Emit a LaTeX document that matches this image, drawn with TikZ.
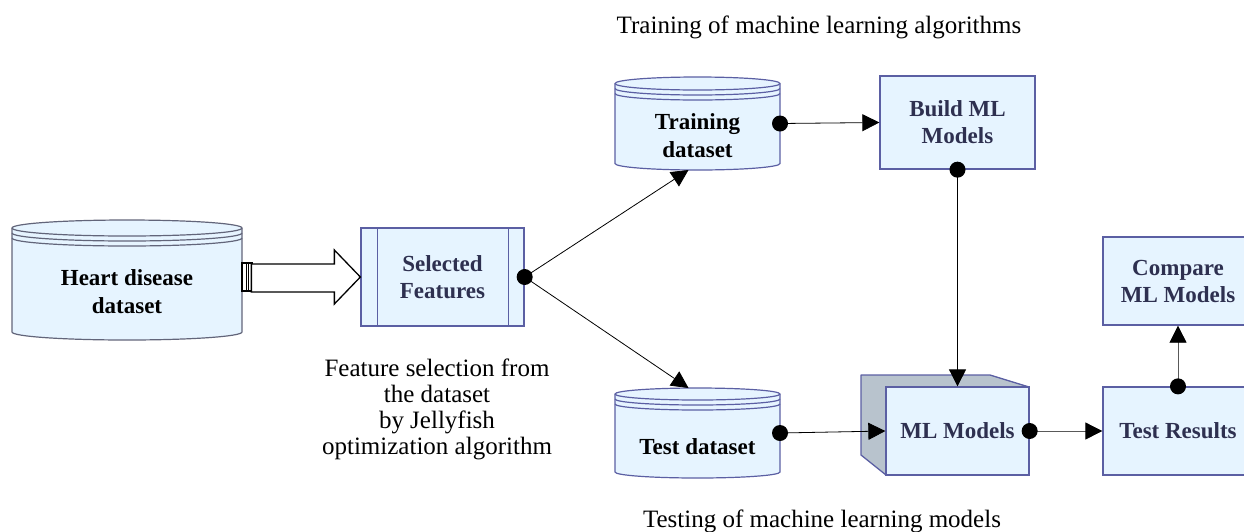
\documentclass[tikz,border=0pt]{standalone}
\usepackage{fontspec}
\setmainfont{Liberation Serif}
\usetikzlibrary{arrows.meta}
\definecolor{boxfill}{HTML}{E6F4FF}
\definecolor{boxline}{HTML}{5B5FA3}
\definecolor{cylline}{HTML}{62657A}
\definecolor{navytext}{HTML}{2E3050}
\definecolor{sideface}{HTML}{B8C3CD}
\newcommand{\dbcyl}[6]{% x1 x2 ytop ybot ry linecolor
  \pgfmathsetmacro{\rx}{(#2-#1)/2}
  \filldraw[fill=boxfill,draw=#6,line width=1.2pt]
    (#1,#3+#5) -- (#1,#4-#5)
    arc[start angle=180,end angle=360,x radius=\rx pt,y radius=#5pt]
    -- (#2,#3+#5)
    arc[start angle=0,end angle=180,x radius=\rx pt,y radius=#5pt] -- cycle;
  \draw[draw=#6,line width=1.2pt] (#1,#3+#5)
    arc[start angle=180,end angle=360,x radius=\rx pt,y radius=#5pt];
  \draw[draw=#6,line width=1.2pt] (#1,#3+#5+5)
    arc[start angle=180,end angle=360,x radius=\rx pt,y radius=#5pt];
  \draw[draw=#6,line width=1.2pt] (#1,#3+#5+10)
    arc[start angle=180,end angle=360,x radius=\rx pt,y radius=#5pt];
}
\begin{document}
\begin{tikzpicture}[x=1pt,y=-1pt,
  box/.style={draw=boxline,fill=boxfill,line width=1.3pt,text=navytext,
    font=\fontsize{23}{27}\selectfont\bfseries,align=center,inner sep=0pt},
  cyltext/.style={text=black,font=\fontsize{23}{28}\selectfont\bfseries,align=center,inner sep=0pt},
  plain/.style={text=black,font=\fontsize{25}{26}\selectfont,align=center,inner sep=0pt},
  area/.style={inner sep=0pt,outer sep=0pt},
  conn/.style={line width=0.8pt,-{Triangle[length=17pt,width=17pt,color=black]}},
  grayconn/.style={conn,draw=black!65},
  dot/.style={fill=black}]
\useasboundingbox (0,0) rectangle (1244,531);

% cylinders
\dbcyl{12}{242}{220}{340}{8}{cylline}
\node[area,minimum width=230pt,minimum height=120pt] (heart) at (127,280) {};
\node[cyltext] (hearttext) at (127,292) {Heart disease\\dataset};

\dbcyl{615}{780}{77}{170}{6.5}{boxline}
\node[area,minimum width=165pt,minimum height=93pt] (train) at (697.5,123.5) {};
\node[cyltext] (traintext) at (697.5,136) {Training\\dataset};

\dbcyl{615}{780}{388}{478}{6}{boxline}
\node[area,minimum width=165pt,minimum height=90pt] (test) at (697.5,433) {};
\node[cyltext] (testtext) at (697.5,447) {Test dataset};

% selected features
\node[box,minimum width=163pt,minimum height=98pt] (sel) at (442.5,277) {Selected\\Features};
\draw[boxline,line width=1.3pt] ([xshift=17pt]sel.north west) -- ([xshift=17pt]sel.south west);
\draw[boxline,line width=1.3pt] ([xshift=-16pt]sel.north east) -- ([xshift=-16pt]sel.south east);

% boxes
\node[box,minimum width=155pt,minimum height=93pt] (build) at (957.5,122.5) {Build ML\\Models};
\filldraw[fill=sideface,draw=boxline,line width=1.3pt,line join=round]
  (861,375) -- (990,375) -- (1029,387) -- (886,387) -- (886,475) -- (861,455) -- cycle;
\node[box,minimum width=143pt,minimum height=88pt] (mlm) at (957.5,431) {ML Models};
\node[box,minimum width=150pt,minimum height=88pt] (tr) at (1178,431) {Test Results};
\node[box,minimum width=150pt,minimum height=88pt] (cmp) at (1178,281) {Compare\\ML Models};

% big hollow arrow
\draw[line width=1.3pt,fill=white,line join=miter] (242,263) rectangle (252,291);
\draw[line width=1pt] (246,263) -- (246,291) (248.5,263) -- (248.5,291);
\draw[line width=1.3pt,fill=white,line join=miter] (sel.west) -- ++(-26,-27) -- ++(0,14) -- ++(-83,0)
  -- ++(0,28) -- ++(83,0) -- ++(0,12) -- cycle;

% connectors
\draw[conn] (sel.east) -- ([xshift=-9pt]train.south);
\draw[conn] (sel.east) -- ([xshift=-9pt]test.north);
\draw[conn] (train.east) -- (build.west);
\draw[conn] (build.south) -- (mlm.north);
\draw[conn] (test.east) -- (mlm.west);
\draw[grayconn] (mlm.east) -- (tr.west);
\draw[grayconn] (tr.north) -- (cmp.south);
\foreach \p in {sel.east,train.east,build.south,test.east,mlm.east,tr.north}
  \fill[dot] (\p) circle[radius=8pt];

% labels
\node[plain] (lbltrain) at (819,27) {Training of machine learning algorithms};
\node[plain] (lbltest) at (822,521) {Testing of machine learning models};
\node[plain] (lblfeat) at (437,409) {Feature selection from\\the dataset\\by Jellyfish\\optimization algorithm};
\end{tikzpicture}
\end{document}
